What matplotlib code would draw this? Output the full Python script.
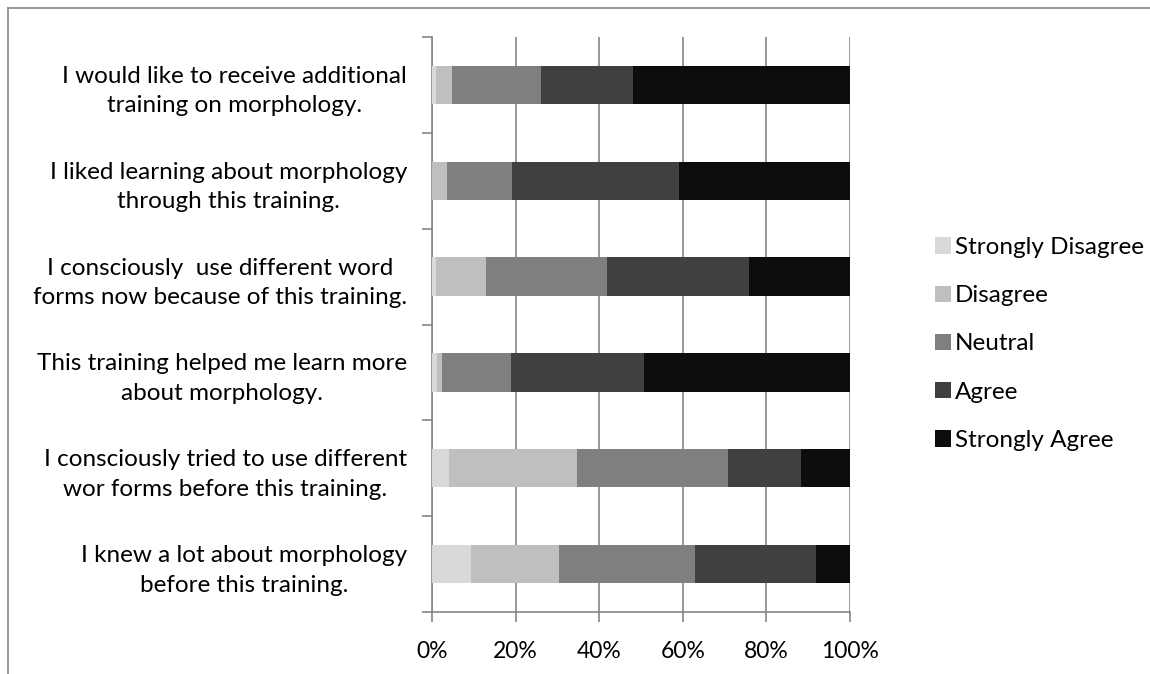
import matplotlib.pyplot as plt
import numpy as np
from matplotlib.lines import Line2D
from matplotlib.patches import Patch

plt.rcParams["font.family"] = ["Lato", "DejaVu Sans"]

statements = [
    "I would like to receive additional\ntraining on morphology.",
    "I liked learning about morphology\nthrough this training.",
    "I consciously  use different word\nforms now because of this training.",
    "This training helped me learn more\nabout morphology.",
    "I consciously tried to use different\nwor forms before this training.",
    "I knew a lot about morphology\nbefore this training.",
]

responses = ["Strongly Disagree", "Disagree", "Neutral", "Agree", "Strongly Agree"]

# percent of respondents per statement, in statement order
strongly_disagree = [1.0, 0.0, 1.0, 1.2, 4.0, 9.3]
disagree = [3.7, 3.6, 11.8, 1.1, 30.6, 21.0]
neutral = [21.3, 15.6, 29.1, 16.5, 36.2, 32.6]
agree = [22.2, 39.8, 33.9, 31.8, 17.4, 29.0]
strongly_agree = [51.8, 41.0, 24.2, 49.4, 11.8, 8.1]

colors = ["#d9d9d9", "#bfbfbf", "#7f7f7f", "#404040", "#0d0d0d"]
grid_gray = "#868686"
fs = 17.5

fig = plt.figure(figsize=(11.5, 6.74), dpi=100)
ax = fig.add_axes([432 / 1150, 1 - 612 / 674, 418 / 1150, 575 / 674])

series = [strongly_disagree, disagree, neutral, agree, strongly_agree]
y = np.arange(len(statements))
left = np.zeros(len(statements))
for vals, col, name in zip(series, colors, responses):
    vals = np.array(vals)
    ax.barh(y, vals, left=left, height=0.4, color=col, label=name, zorder=3)
    left += vals

ax.set_xlim(0, 100)
ax.set_ylim(len(statements) - 0.5, -0.5)
ax.set_xticks(range(0, 101, 20))
ax.set_xticklabels([f"{v}%" for v in range(0, 101, 20)], fontsize=16.5)
ax.xaxis.grid(True, color=grid_gray, linewidth=1.2, zorder=0)

ax.set_yticks(y)
ax.set_yticklabels(statements, fontsize=fs, ha="right",
                   multialignment="center", linespacing=1.5)
ax.tick_params(axis="y", length=0, pad=18)
ax.set_yticks(np.arange(-0.5, len(statements)), minor=True)
ax.tick_params(axis="y", which="minor", length=7, color=grid_gray, width=1.2)
ax.tick_params(axis="x", length=7, color=grid_gray, width=1.2, pad=14)

for side in ["top", "right"]:
    ax.spines[side].set_visible(False)
for side in ["left", "bottom"]:
    ax.spines[side].set_color(grid_gray)
    ax.spines[side].set_linewidth(1.2)

handles = [Patch(facecolor=c, edgecolor="none") for c in colors]
fig.legend(handles, responses, loc="center left", frameon=False,
           bbox_to_anchor=(923 / 1150, 1 - 344 / 674), fontsize=fs,
           borderpad=0, handlelength=0.65, handleheight=0.65,
           handletextpad=0.15, labelspacing=1.12)

# outer chart border (top and left edges)
fig.add_artist(Line2D([8 / 1150, 8 / 1150], [0, 1 - 8 / 674],
                      transform=fig.transFigure, color=grid_gray, linewidth=1.2))
fig.add_artist(Line2D([8 / 1150, 1], [1 - 8 / 674, 1 - 8 / 674],
                      transform=fig.transFigure, color=grid_gray, linewidth=1.2))

fig.savefig("out.png", dpi=100)
